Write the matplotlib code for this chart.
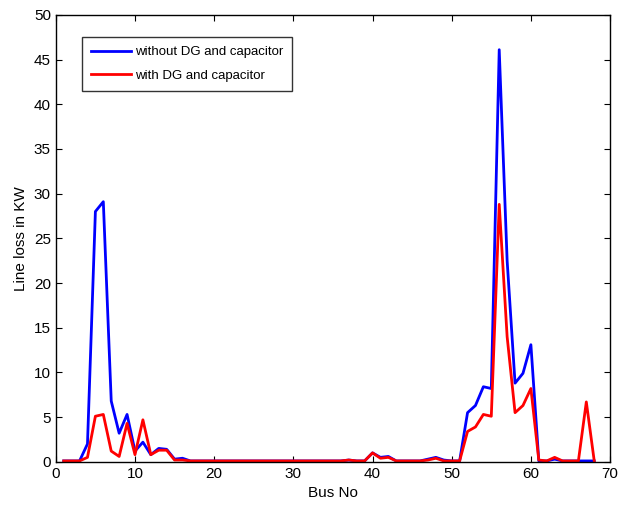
import numpy as np
import matplotlib
matplotlib.use("Agg")
import matplotlib.pyplot as plt

plt.rcParams['font.family'] = ['Liberation Sans', 'DejaVu Sans']

bus = np.arange(1, 69)

without_dg = [0.1, 0.1, 0.1, 2.0, 28.0, 29.1, 6.8, 3.2, 5.3, 1.2,
              2.2, 0.8, 1.5, 1.4, 0.3, 0.4, 0.1, 0.1, 0.1, 0.1,
              0.1, 0.1, 0.1, 0.1, 0.1, 0.1, 0.1, 0.1, 0.1, 0.1,
              0.1, 0.1, 0.1, 0.1, 0.1, 0.1, 0.2, 0.1, 0.1, 1.0,
              0.5, 0.6, 0.1, 0.1, 0.1, 0.1, 0.3, 0.5, 0.2, 0.1,
              0.1, 5.5, 6.3, 8.4, 8.2, 46.1, 22.5, 8.8, 9.9, 13.1,
              0.1, 0.1, 0.3, 0.1, 0.1, 0.1, 0.1, 0.1]

with_dg = [0.1, 0.1, 0.1, 0.5, 5.1, 5.3, 1.2, 0.6, 4.3, 0.8,
           4.7, 0.8, 1.3, 1.3, 0.2, 0.2, 0.1, 0.1, 0.1, 0.1,
           0.1, 0.1, 0.1, 0.1, 0.1, 0.1, 0.1, 0.1, 0.1, 0.1,
           0.1, 0.1, 0.1, 0.1, 0.1, 0.1, 0.2, 0.1, 0.1, 1.0,
           0.4, 0.5, 0.1, 0.1, 0.1, 0.1, 0.2, 0.4, 0.1, 0.1,
           0.1, 3.4, 3.9, 5.3, 5.1, 28.8, 14.0, 5.5, 6.3, 8.2,
           0.2, 0.1, 0.5, 0.1, 0.1, 0.1, 6.7, 0.1]

fig = plt.figure(figsize=(6.27, 5.12), dpi=100)
ax = fig.add_axes([0.089, 0.098, 0.884, 0.873])

ax.plot(bus, without_dg, color='#0000ff', lw=2, label='without DG and capacitor')
ax.plot(bus, with_dg, color='#ff0000', lw=2, label='with DG and capacitor')

ax.set_xlim(0, 70)
ax.set_ylim(0, 50)
ax.set_xticks(np.arange(0, 71, 10))
ax.set_yticks(np.arange(0, 51, 5))
ax.tick_params(direction='in', top=True, right=True, labelsize=11, length=4)
for s in ax.spines.values():
    s.set_linewidth(1.0)

ax.set_xlabel('Bus No', fontsize=11)
ax.set_ylabel('Line loss in KW', fontsize=11)

leg = ax.legend(loc='upper left', bbox_to_anchor=(0.047, 0.951), fontsize=9.5,
                frameon=True, fancybox=False, edgecolor='black',
                handlelength=3.0, handletextpad=0.3, borderpad=0.7,
                labelspacing=0.85, borderaxespad=0)
leg.get_frame().set_linewidth(1.0)

fig.savefig('out.png', dpi=100)
